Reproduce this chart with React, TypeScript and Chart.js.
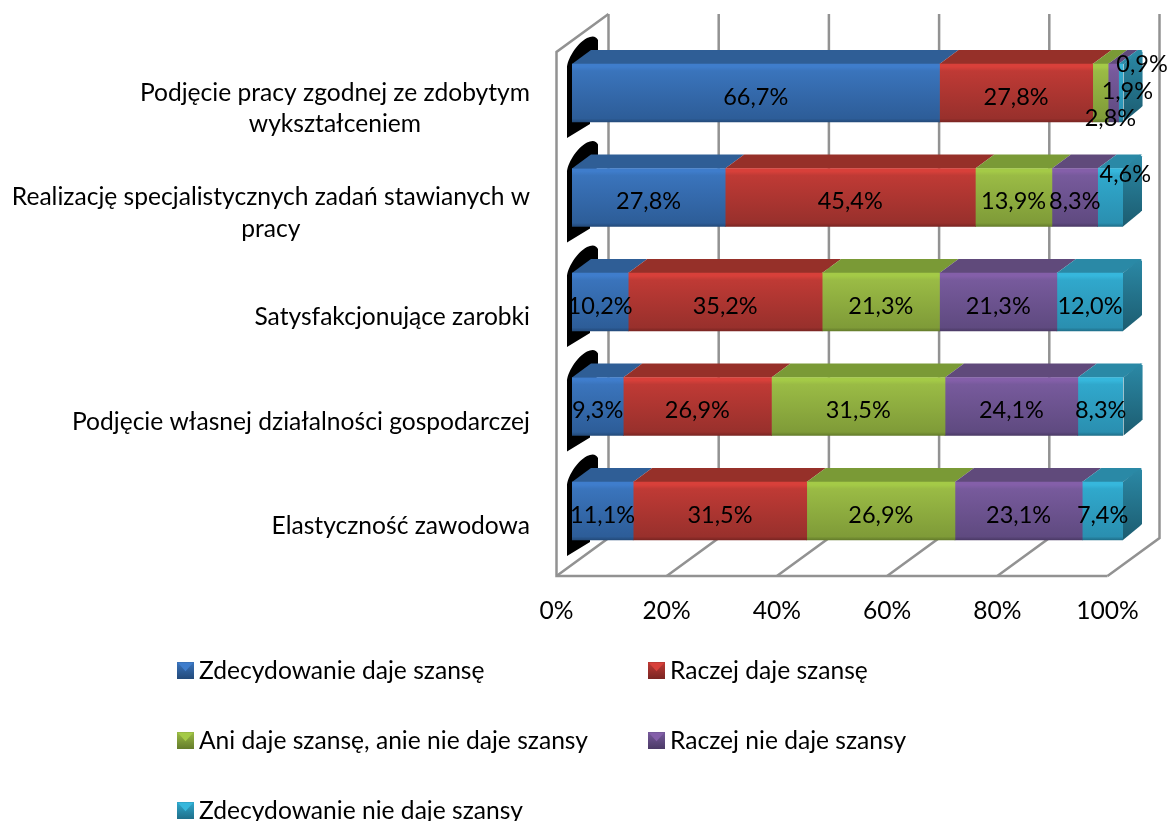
import React, { useEffect, useRef } from "react";
import { Chart, registerables } from "chart.js";

Chart.register(...registerables);

const categories = [
  ["Podjęcie pracy zgodnej ze zdobytym", "wykształceniem"],
  ["Realizację specjalistycznych zadań stawianych w", "pracy"],
  "Satysfakcjonujące zarobki",
  "Podjęcie własnej działalności gospodarczej",
  "Elastyczność zawodowa",
];
const zdecydowanieDaje = [66.7, 27.8, 10.2, 9.3, 11.1];
const raczejDaje = [27.8, 45.4, 35.2, 26.9, 31.5];
const aniAni = [2.8, 13.9, 21.3, 31.5, 26.9];
const raczejNie = [1.9, 8.3, 21.3, 24.1, 23.1];
const zdecydowanieNie = [0.9, 4.6, 12.0, 8.3, 7.4];
const seriesNames = [
  "Zdecydowanie daje szansę",
  "Raczej daje szansę",
  "Ani daje szansę, anie nie daje szansy",
  "Raczej nie daje szansy",
  "Zdecydowanie nie daje szansy",
];

const FONT = "Lato, Carlito, sans-serif";
const FONT_SIZE = 24.6;
const VALUE_FONT_SIZE = 23.5;
const DEPTH_X = 19;
const DEPTH_Y = 14;
const WALL_X = 52;
const WALL_Y = 38;
const FLOOR_Y = 576;
const WALL_TOP = 14;
const AXIS_SHIFT = -15.5;

const palette = [
  { top: "#2f5e96", light: "#3f7dcc", mid: "#3a74bc", dark: "#2d5d98", edge: "#234a7a" },
  { top: "#963029", light: "#d8403a", mid: "#bf3a35", dark: "#98302c", edge: "#7a2522" },
  { top: "#7a9a36", light: "#a4ca47", mid: "#9abb45", dark: "#7f9b38", edge: "#647c2b" },
  { top: "#604a7b", light: "#845fa9", mid: "#775a9c", dark: "#5f4a80", edge: "#4b3a66" },
  { top: "#2a89a6", light: "#36b7dc", mid: "#30a8cc", dark: "#2a8fb0", edge: "#1f6f8a" },
];

const labelNudges: Record<string, [number, number]> = {
  "2-0": [10, 21],
  "3-0": [14, -6],
  "4-0": [21, -33],
  "4-1": [15, -27],
};

function polygon(ctx: CanvasRenderingContext2D, pts: number[][], fill: string | CanvasGradient) {
  ctx.beginPath();
  pts.forEach(([x, y], i) => (i ? ctx.lineTo(x, y) : ctx.moveTo(x, y)));
  ctx.closePath();
  ctx.fillStyle = fill;
  ctx.fill();
}

const scenePlugin = {
  id: "scene3d",
  beforeDraw(chart: any) {
    const items = chart.scales.y.getLabelItems();
    const ctx = chart.ctx;
    ctx.save();
    ctx.font = `${FONT_SIZE}px ${FONT}`;
    items.forEach((item: any) => {
      if (!Array.isArray(item.label)) return;
      if (item.options.textAlign === "center") return;
      const w = Math.max(...item.label.map((s: string) => ctx.measureText(s).width));
      item.options.textAlign = "center";
      item.options.translation = [item.options.translation[0] - w / 2, item.options.translation[1]];
    });
    ctx.restore();
  },
  beforeDatasetsDraw(chart: any) {
    const { ctx, scales } = chart;
    const x = scales.x;
    ctx.save();
    // walls, floor and grid
    ctx.strokeStyle = "#929292";
    ctx.lineWidth = 2.5;
    x.ticks.forEach((t: any) => {
      const fx = x.getPixelForValue(t.value) + AXIS_SHIFT;
      ctx.beginPath();
      ctx.moveTo(fx, FLOOR_Y);
      ctx.lineTo(fx + WALL_X, FLOOR_Y - WALL_Y);
      ctx.lineTo(fx + WALL_X, WALL_TOP);
      ctx.stroke();
    });
    const x0f = x.getPixelForValue(0) + AXIS_SHIFT;
    const x1f = x.getPixelForValue(100) + AXIS_SHIFT;
    ctx.beginPath();
    ctx.moveTo(x0f + WALL_X, WALL_TOP);
    ctx.lineTo(x0f, WALL_TOP + WALL_Y);
    ctx.lineTo(x0f, FLOOR_Y);
    ctx.lineTo(x1f, FLOOR_Y);
    ctx.stroke();

    // black end caps
    const first = chart.getDatasetMeta(0).data;
    first.forEach((el: any) => {
      const y0 = el.y - el.height / 2;
      const y1 = el.y + el.height / 2;
      const b = el.base;
      ctx.beginPath();
      ctx.moveTo(b - 5, y0 + 4);
      ctx.bezierCurveTo(b - 5, y0 - 4, b + 4, y0 - 20, b + 15, y0 - 26);
      ctx.quadraticCurveTo(b + 23, y0 - 30, b + 26, y0 - 24);
      ctx.lineTo(b + 26, y0 - 10);
      ctx.lineTo(b + 18, y1 - 10);
      ctx.lineTo(b + 18, y1 + 2);
      ctx.lineTo(b - 5, y1 + 16);
      ctx.closePath();
      ctx.fillStyle = "#000";
      ctx.fill();
    });

    // top faces and end faces
    chart.data.datasets.forEach((_: any, di: number) => {
      const c = palette[di];
      chart.getDatasetMeta(di).data.forEach((el: any) => {
        const y0 = el.y - el.height / 2;
        const y1 = el.y + el.height / 2;
        polygon(
          ctx,
          [
            [el.base, y0],
            [el.base + DEPTH_X, y0 - DEPTH_Y],
            [el.x + DEPTH_X, y0 - DEPTH_Y],
            [el.x, y0],
          ],
          c.top
        );
        if (di === chart.data.datasets.length - 1) {
          const g = ctx.createLinearGradient(0, y0 - DEPTH_Y, 0, y1);
          g.addColorStop(0, "#2b89a6");
          g.addColorStop(1, "#1c5c70");
          polygon(
            ctx,
            [
              [el.x, y0],
              [el.x + DEPTH_X - 2, y0 - DEPTH_Y],
              [el.x + DEPTH_X, y0 - DEPTH_Y + 2],
              [el.x + DEPTH_X, y1 - DEPTH_Y - 2],
              [el.x + DEPTH_X - 2, y1 - DEPTH_Y],
              [el.x, y1],
            ],
            g
          );
        }
      });
    });
    ctx.restore();
  },
  afterDatasetsDraw(chart: any) {
    const { ctx } = chart;
    ctx.save();
    ctx.font = `${VALUE_FONT_SIZE}px ${FONT}`;
    ctx.fillStyle = "#000";
    ctx.textAlign = "center";
    ctx.textBaseline = "middle";
    chart.data.datasets.forEach((ds: any, di: number) => {
      chart.getDatasetMeta(di).data.forEach((el: any, i: number) => {
        const [dx, dy] = labelNudges[`${di}-${i}`] || [0, 0];
        const text = ds.data[i].toFixed(1).replace(".", ",") + "%";
        ctx.fillText(text, (el.x + el.base) / 2 + dx, el.y + 4 + dy);
      });
    });

    // legend
    ctx.font = `${FONT_SIZE}px ${FONT}`;
    const cols = [177, 648];
    const rows = [662, 732, 802];
    const S = 17;
    chart.data.datasets.forEach((ds: any, di: number) => {
      const sx = cols[di % 2];
      const sy = rows[Math.floor(di / 2)];
      const c = palette[di];
      const g = ctx.createLinearGradient(0, sy, 0, sy + S);
      g.addColorStop(0, c.mid);
      g.addColorStop(1, c.edge);
      ctx.fillStyle = g;
      ctx.fillRect(sx, sy, S, S);
      polygon(
        ctx,
        [
          [sx + 1, sy + 1],
          [sx + S - 1, sy + 1],
          [sx + S / 2, sy + S * 0.55],
        ],
        c.light
      );
      ctx.textAlign = "left";
      ctx.textBaseline = "middle";
      ctx.fillStyle = "#000";
      ctx.fillText(ds.label, sx + 22, sy + S / 2 + 1);
    });
    ctx.restore();
  },
};

export default function App() {
  const ref = useRef<HTMLCanvasElement>(null);
  useEffect(() => {
    const seriesValues = [zdecydowanieDaje, raczejDaje, aniAni, raczejNie, zdecydowanieNie];
    const chart = new Chart(ref.current as HTMLCanvasElement, {
      type: "bar",
      plugins: [scenePlugin],
      data: {
        labels: categories as any,
        datasets: seriesValues.map((data, di) => ({
          label: seriesNames[di],
          data,
          stack: "s",
          barThickness: 58,
          borderWidth: 0,
          backgroundColor: (c: any) => {
            const p = palette[di];
            const y = c.chart.scales.y;
            if (!y || c.dataIndex === undefined) return p.mid;
            const cy = y.getPixelForValue(c.dataIndex);
            if (!Number.isFinite(cy)) return p.mid;
            const g = c.chart.ctx.createLinearGradient(0, cy - 29, 0, cy + 29);
            g.addColorStop(0, p.light);
            g.addColorStop(0.05, p.light);
            g.addColorStop(0.12, p.mid);
            g.addColorStop(0.94, p.dark);
            g.addColorStop(1, p.edge);
            return g;
          },
        })),
      },
      options: {
        indexAxis: "y",
        responsive: false,
        animation: false,
        devicePixelRatio: 1,
        layout: { padding: { top: 40.75, right: 45, bottom: 0, left: 0 } },
        plugins: { legend: { display: false }, tooltip: { enabled: false }, title: { display: false } },
        scales: {
          x: {
            stacked: true,
            min: 0,
            max: 100,
            grid: { display: false, drawTicks: false },
            border: { display: false },
            afterFit: (s: any) => {
              s.height = 821 - 563.25;
              s.paddingLeft = 0;
              s.paddingRight = 0;
            },
            ticks: {
              stepSize: 20,
              padding: 33,
              labelOffset: AXIS_SHIFT,
              maxRotation: 0,
              autoSkip: false,
              color: "#000",
              font: { family: FONT, size: FONT_SIZE },
              callback: (v: any) => `${v}%`,
            },
          },
          y: {
            stacked: true,
            grid: { display: false, drawTicks: false },
            border: { display: false },
            afterFit: (s: any) => {
              s.width = 572;
              s.paddingTop = 0;
              s.paddingBottom = 0;
            },
            ticks: {
              padding: 42,
              labelOffset: 15.5,
              autoSkip: false,
              color: "#000",
              font: { family: FONT, size: FONT_SIZE, lineHeight: 1.27 },
            },
          },
        },
      } as any,
    });
    return () => chart.destroy();
  }, []);
  return (
    <div style={{ position: "absolute", left: 0, top: 0, width: 1168, height: 821 }}>
      <canvas ref={ref} width={1168} height={821} style={{ display: "block" }} />
    </div>
  );
}
